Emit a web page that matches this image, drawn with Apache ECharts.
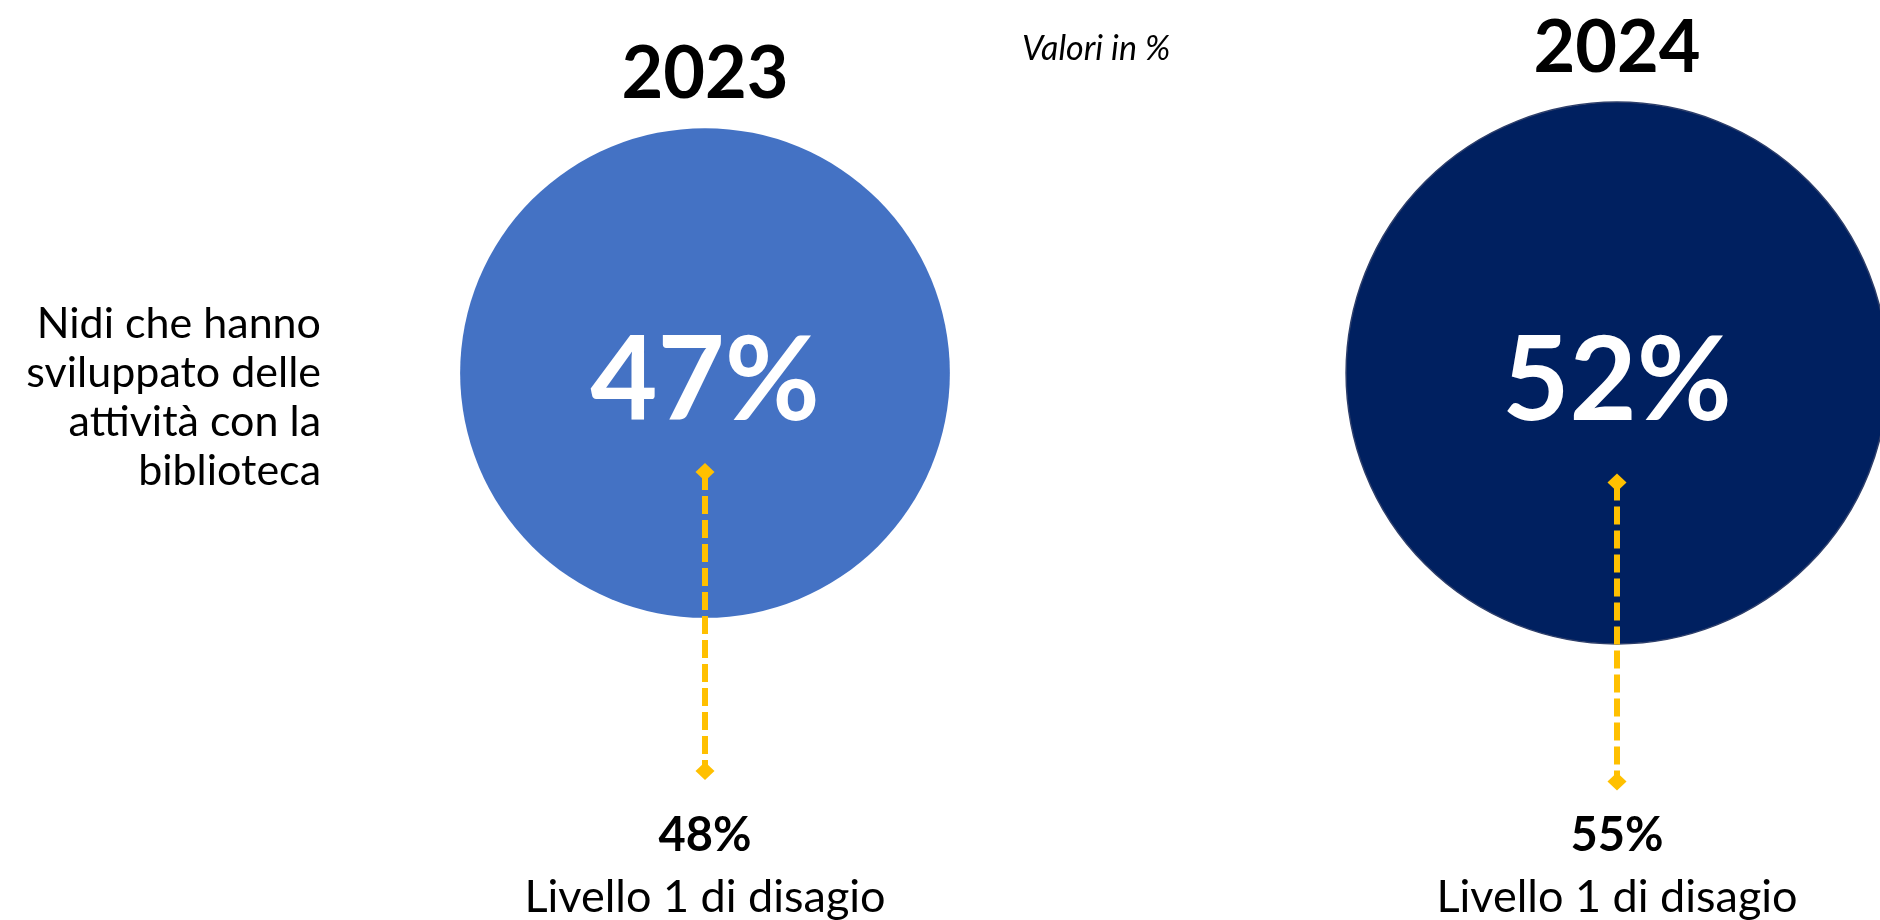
<!DOCTYPE html>
<html>
<head>
<meta charset="utf-8">
<script src="https://cdn.jsdelivr.net/npm/echarts@6/dist/echarts.min.js"></script>
<style>
  html, body { margin: 0; padding: 0; background: #ffffff; }
  #chart { width: 1880px; height: 920px; }
</style>
</head>
<body>
<div id="chart"></div>
<script>
// ---- data ----
const years = ['2023', '2024'];
const mainValues = [47, 52];          // % nidi con attività con la biblioteca
const level1Values = [48, 55];        // % livello 1 di disagio
const level1Label = 'Livello 1 di disagio';
const rowLabels = ['Nidi che hanno\nsviluppato delle\nattività con la\nbiblioteca'];
const unitNote = 'Valori in %';
const circleColors = ['#4472C4', '#002060'];

// ---- layout / style constants ----
const SCALE = 10.42;                  // circle diameter in px per percentage point
const FONT = 'Lato, "Open Sans", sans-serif';
const YELLOW = '#FFC000';

const chart = echarts.init(document.getElementById('chart'));

const scatterData = mainValues.map((v, i) => ({
  value: [i, 0, v],
  itemStyle: {
    color: circleColors[i],
    opacity: 1,
    borderColor: i === 1 ? '#2E3F6B' : circleColors[i],
    borderWidth: i === 1 ? 1.5 : 0
  }
}));

const customData = mainValues.map((v, i) => [i, 0, v, level1Values[i]]);

function diamond(x, y) {
  return {
    type: 'polygon',
    shape: { points: [[x, y - 9], [x + 9.5, y], [x, y + 9], [x - 9.5, y]] },
    style: { fill: YELLOW }
  };
}

function renderItem(params, api) {
  const p = api.coord([api.value(0), api.value(1)]);
  const r = api.value(2) * SCALE / 2;
  const x = p[0], cy = p[1];
  const top = cy + 0.404 * r;
  const bot = top + 299;
  return {
    type: 'group',
    children: [
      {
        type: 'text',
        style: {
          text: years[params.dataIndex],
          x: x, y: cy - r - 53,
          align: 'center', verticalAlign: 'middle',
          fontSize: 72, fontWeight: 'bold', fontFamily: FONT, fill: '#000'
        }
      },
      {
        type: 'line',
        shape: { x1: x, y1: top, x2: x, y2: bot },
        style: { stroke: YELLOW, lineWidth: 6, lineDash: [18, 6] }
      },
      diamond(x, top),
      diamond(x, bot),
      {
        type: 'text',
        style: {
          text: api.value(3) + '%',
          x: x, y: cy + 463,
          align: 'center', verticalAlign: 'middle',
          fontSize: 47, fontWeight: 'bold', fontFamily: FONT, fill: '#000'
        }
      },
      {
        type: 'text',
        style: {
          text: level1Label,
          x: x, y: cy + 524,
          align: 'center', verticalAlign: 'middle',
          fontSize: 45, fontFamily: FONT, fill: '#000'
        }
      }
    ]
  };
}

const option = {
  backgroundColor: '#ffffff',
  animation: false,
  title: {
    text: unitNote,
    left: 1017,
    top: 27,
    textStyle: {
      fontSize: 34, fontStyle: 'italic', fontWeight: 'normal',
      fontFamily: FONT, color: '#000'
    }
  },
  grid: { left: 705, right: 263, top: 273, bottom: 447, containLabel: false },
  xAxis: {
    type: 'category',
    data: years,
    boundaryGap: false,
    show: false
  },
  yAxis: {
    type: 'category',
    data: rowLabels,
    axisLine: { show: false },
    axisTick: { show: false },
    splitLine: { show: false },
    axisLabel: {
      margin: 384,
      align: 'right',
      fontSize: 43,
      lineHeight: 49,
      fontFamily: FONT,
      color: '#000',
      formatter: (v) => '\n' + v
    }
  },
  series: [
    {
      type: 'scatter',
      data: scatterData,
      symbol: 'circle',
      symbolSize: (val) => val[2] * SCALE,
      clip: false,
      silent: true,
      z: 2,
      label: {
        show: true,
        position: 'inside',
        formatter: (p) => p.value[2] + '%',
        fontSize: 116,
        fontWeight: 'bold',
        fontFamily: FONT,
        color: '#ffffff',
        offset: [0, 10]
      },
      emphasis: { disabled: true }
    },
    {
      type: 'custom',
      data: customData,
      renderItem: renderItem,
      clip: false,
      silent: true,
      z: 3
    }
  ]
};

chart.setOption(option);
</script>
</body>
</html>
